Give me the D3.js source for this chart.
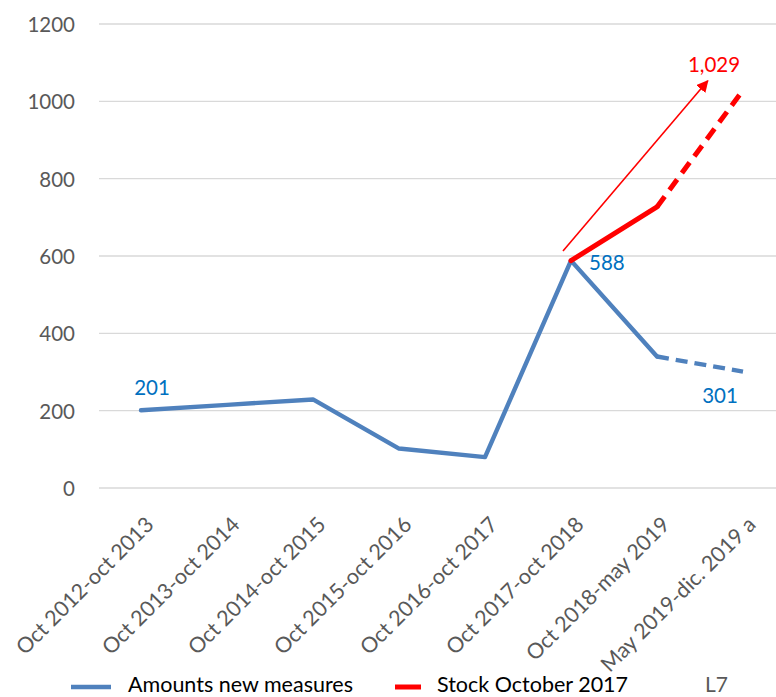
<!DOCTYPE html>
<html>
<head>
<meta charset="utf-8">
<script src="https://cdn.jsdelivr.net/npm/d3@7"></script>
<style>
  html, body { margin: 0; padding: 0; background: #fff; }
  svg { display: block; }
  text { font-family: Lato, "Open Sans", sans-serif; }
</style>
</head>
<body>
<svg id="chart" width="776" height="697"></svg>
<script>
// Periods on the horizontal axis
const categories = [
  "Oct 2012-oct 2013", "Oct 2013-oct 2014", "Oct 2014-oct 2015",
  "Oct 2015-oct 2016", "Oct 2016-oct 2017", "Oct 2017-oct 2018",
  "Oct 2018-may 2019", "May 2019-dic. 2019 a"
];
// Amounts of new measures per period
const amountsNew = [201, 215, 229, 102, 80, 588, 340, 301];
// Stock since October 2017 (starts at the 2017-2018 period)
const stockOct2017 = [null, null, null, null, null, 588, 727, 1029];
// Value axis ticks
const yTicks = [0, 200, 400, 600, 800, 1000, 1200];

// Which series points get a value label
const blueLabels = [0, 5, 7];
const redLabels = [7];

const svg = d3.select("#chart");

const x = d3.scalePoint().domain(categories).range([141, 743]);
const y = d3.scaleLinear().domain([0, 1200]).range([488, 24]);

const gridLeft = 99, gridRight = 776;

// Horizontal gridlines
svg.append("g")
  .selectAll("line")
  .data(yTicks)
  .join("line")
  .attr("x1", gridLeft).attr("x2", gridRight)
  .attr("y1", d => y(d)).attr("y2", d => y(d))
  .attr("stroke", "#d9d9d9").attr("stroke-width", 1.3);

// Value axis labels
const yAxis = d3.axisLeft(y).tickValues(yTicks).tickSize(0).tickPadding(0)
  .tickFormat(d3.format("d"));
const yg = svg.append("g").attr("transform", "translate(75,0)").call(yAxis);
yg.select(".domain").remove();
yg.selectAll("text")
  .attr("fill", "#595959").attr("font-size", 20.5)
  .attr("font-family", "Lato, sans-serif")
  .attr("dy", "0.36em");

// Category labels, rotated
svg.append("g")
  .selectAll("text")
  .data(categories)
  .join("text")
  .attr("transform", d => `translate(${x(d) + 14},526) rotate(-45)`)
  .attr("text-anchor", "end")
  .attr("fill", "#595959")
  .attr("font-size", 21.5)
  .text(d => d);

const blue = "#4f81bd";
const red = "#ff0000";

// Builds line segments: solid up to the 7th point, dashed for the last step
function drawSeries(values, color, width, dash) {
  const pts = values.map((v, i) => ({ c: categories[i], v })).filter(p => p.v !== null);
  const line = d3.line().x(p => x(p.c)).y(p => y(p.v));
  const solid = pts.slice(0, pts.length - 1);
  const dashed = pts.slice(pts.length - 2);
  svg.append("path").attr("d", line(solid))
    .attr("fill", "none").attr("stroke", color).attr("stroke-width", width)
    .attr("stroke-linejoin", "round").attr("stroke-linecap", "round");
  svg.append("path").attr("d", line(dashed))
    .attr("fill", "none").attr("stroke", color).attr("stroke-width", width)
    .attr("stroke-dasharray", dash).attr("stroke-linecap", "butt");
}

drawSeries(amountsNew, blue, 4.4, "12,7");
drawSeries(stockOct2017, red, 5, "13,8");

// Growth arrow annotation
const defs = svg.append("defs");
defs.append("marker")
  .attr("id", "arrowHead")
  .attr("viewBox", "0 0 10 10")
  .attr("refX", 9).attr("refY", 5)
  .attr("markerWidth", 7.5).attr("markerHeight", 7.5)
  .attr("markerUnits", "strokeWidth")
  .attr("orient", "auto")
  .append("path").attr("d", "M0,0 L10,5 L0,10 Z").attr("fill", red);

const i6 = categories[5], i7 = categories[6], i8 = categories[7];
const arrowX1 = x(i6) - 8, arrowY1 = y(613);
const arrowX2 = x(i7) + (x(i8) - x(i7)) * 0.59, arrowY2 = y(1053);
svg.append("line")
  .attr("x1", arrowX1).attr("y1", arrowY1)
  .attr("x2", arrowX2).attr("y2", arrowY2)
  .attr("stroke", red).attr("stroke-width", 1.6)
  .attr("marker-end", "url(#arrowHead)");

// Value labels
const fmt = d3.format(",");
const labelPos = {
  0: { dx: 11, dy: -15, anchor: "middle" },
  5: { dx: 18, dy: 9, anchor: "start" },
  7: { dx: -23, dy: 31, anchor: "middle" }
};
svg.append("g").selectAll("text")
  .data(blueLabels)
  .join("text")
  .attr("x", i => x(categories[i]) + labelPos[i].dx)
  .attr("y", i => y(amountsNew[i]) + labelPos[i].dy)
  .attr("text-anchor", i => labelPos[i].anchor)
  .attr("fill", "#0070c0").attr("font-size", 20.5)
  .text(i => fmt(amountsNew[i]));

svg.append("g").selectAll("text")
  .data(redLabels)
  .join("text")
  .attr("x", i => x(categories[i]) - 29)
  .attr("y", i => y(stockOct2017[i]) - 18)
  .attr("text-anchor", "middle")
  .attr("fill", red).attr("font-size", 20.5)
  .text(i => fmt(stockOct2017[i]));

// Legend
const legend = [
  { name: "Amounts new measures", color: blue, x1: 71, x2: 111, w: 4.4, tx: 128 },
  { name: "Stock October 2017", color: red, x1: 395, x2: 421, w: 5, tx: 437 }
];
const lg = svg.append("g");
lg.selectAll("line").data(legend).join("line")
  .attr("x1", d => d.x1).attr("x2", d => d.x2)
  .attr("y1", 687).attr("y2", 687)
  .attr("stroke", d => d.color).attr("stroke-width", d => d.w);
lg.selectAll("text").data(legend).join("text")
  .attr("x", d => d.tx).attr("y", 691.5)
  .attr("fill", "#000").attr("font-size", 21.5)
  .text(d => d.name);

svg.append("text")
  .attr("x", 705).attr("y", 691.5)
  .attr("fill", "#595959").attr("font-size", 21)
  .text("L7");
</script>
</body>
</html>
